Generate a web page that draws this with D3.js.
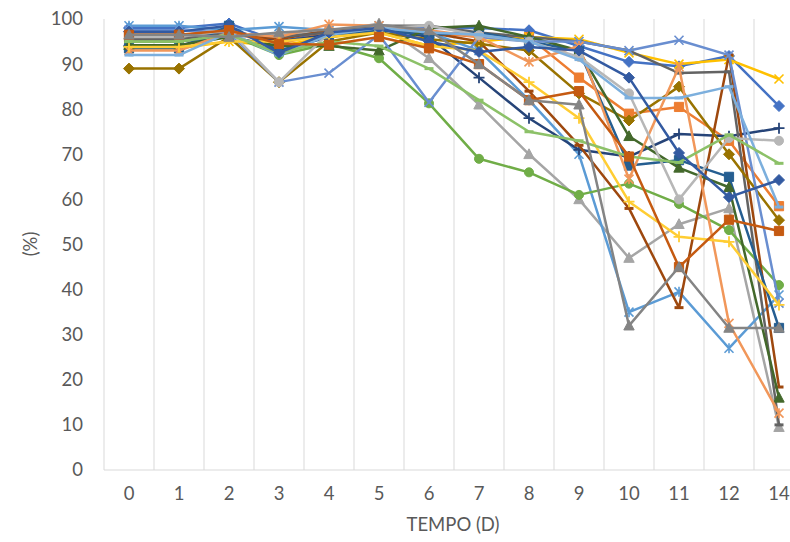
<!DOCTYPE html>
<html>
<head>
<meta charset="utf-8">
<script src="https://cdn.jsdelivr.net/npm/d3@7"></script>
<style>
  html, body { margin: 0; padding: 0; background: #ffffff; }
  svg { display: block; }
  text { font-family: Lato, "Open Sans", "Liberation Sans", sans-serif; fill: #595959; }
</style>
</head>
<body>
<svg id="chart" width="790" height="542"></svg>
<script>
// Days of observation (category axis)
const categories = ["0", "1", "2", "3", "4", "5", "6", "7", "8", "9", "10", "11", "12", "14"];
const yTicks = [0, 10, 20, 30, 40, 50, 60, 70, 80, 90, 100];

// Percentage per day, one array per series
const serie01 = [98, 98, 99, 95, 97, 98, 98, 98, 97.5, 94, 90.5, 89.5, 91.8, 80.7];
const serie02 = [96, 96, 97, 94.5, 97, 97.5, 97, 96, 96, 87, 79, 80.5, 73, 58.5];
const serie03 = [95, 95, 96, 96.5, 97, 99, 91.3, 81, 70, 60, 47, 54.5, 58, 9.5];
const serie04 = [93.5, 93.5, 95, 94, 96, 97, 94, 95, 96, 95.5, 92.5, 90, 91, 86.7];
const serie05 = [98.5, 98.5, 97.5, 98.3, 97.5, 98.5, 97, 93, 82, 70, 35, 39.5, 27, 38.8];
const serie06 = [95, 95, 96.5, 92, 94.5, 91.3, 81.3, 69, 66, 61, 63.5, 59, 53.2, 41];
const serie07 = [94, 94, 97, 95, 96.5, 98, 96, 87, 78, 71, 69.5, 74.5, 74, 75.8];
const serie08 = [96.5, 96.5, 97, 95.5, 97.5, 98, 97, 95, 84, 72, 58, 36, 92, 18.4];
const serie09 = [95.5, 95.5, 97, 96, 97, 98.5, 98.5, 97, 96, 95, 93, 88, 88.3, 10];
const serie10 = [89, 89, 96, 86, 95, 97, 95.5, 94.5, 93, 83.5, 77.5, 85, 70, 55.4];
const serie11 = [93.5, 93.5, 98.5, 93, 96, 97.5, 96.5, 97, 95, 93, 67.5, 68.7, 65, 31.5];
const serie12 = [94.2, 94.2, 96, 94, 94, 93, 98, 98.5, 96, 93, 74, 67, 62.7, 16];
const serie13 = [97.5, 97.5, 97, 86, 88, 96.5, 81.5, 96, 95, 95, 93, 95.3, 92, 37];
const serie14 = [93, 93, 97, 96, 98.8, 98.5, 97.5, 96, 90.5, 94, 64.5, 89.4, 32.5, 12.6];
const serie15 = [96, 96, 97.5, 86, 97, 98, 98.5, 96.4, 95, 91.6, 83.5, 60, 73.6, 73];
const serie16 = [93.8, 93.8, 95, 95, 96, 97, 94, 93, 86, 78, 59.5, 51.7, 50.6, 36.6];
const serie17 = [92, 92, 97, 92, 96.5, 98, 97, 96.5, 95, 91, 82.5, 82.5, 85, 58.3];
const serie18 = [95, 95, 96.5, 92.5, 95, 94, 89, 82, 75, 73, 69.5, 68.2, 74.3, 68];
const serie19 = [97.2, 97.2, 98.5, 92.5, 97, 98, 95, 92.7, 93.8, 93, 87, 70.3, 60.5, 64.3];
const serie20 = [96.5, 96.5, 97.5, 94.5, 94.3, 96, 93.5, 90, 82, 84, 69.5, 45, 55.5, 53];
const serie21 = [96.5, 96.5, 96, 97, 97.6, 98.7, 97.5, 90, 82, 81, 32, 45, 31.5, 31.5];

const seriesValues = [serie01, serie02, serie03, serie04, serie05, serie06, serie07,
  serie08, serie09, serie10, serie11, serie12, serie13, serie14, serie15, serie16,
  serie17, serie18, serie19, serie20, serie21];

const seriesColors = ["#4472C4", "#ED7D31", "#A5A5A5", "#FFC000", "#5B9BD5", "#70AD47",
  "#264478", "#9E480E", "#636363", "#997300", "#255E91", "#43682B", "#698ED0",
  "#F1975A", "#B7B7B7", "#FFCD33", "#7CAFDD", "#8CC168", "#335AA1", "#C55A11", "#848484"];

const markerCycle = ["diamond", "square", "triangle", "x", "star", "circle", "plus", "dash", "dash"];

const svg = d3.select("#chart");
const plot = { left: 104, right: 804, top: 19, bottom: 470 };
const labelFont = 18.5;

const x = d3.scaleBand().domain(categories).range([plot.left, plot.right]).padding(0);
const y = d3.scaleLinear().domain([0, 100]).range([plot.bottom, plot.top]);

// Vertical gridlines at category boundaries
const bounds = categories.map(c => x(c)).concat([plot.right]);
svg.append("g").selectAll("line").data(bounds).join("line")
  .attr("x1", d => d).attr("x2", d => d)
  .attr("y1", plot.top).attr("y2", plot.bottom)
  .attr("stroke", "#d9d9d9").attr("stroke-width", 1);

// Category axis line
svg.append("line")
  .attr("x1", plot.left).attr("x2", plot.right)
  .attr("y1", plot.bottom).attr("y2", plot.bottom)
  .attr("stroke", "#d9d9d9").attr("stroke-width", 1);

// Value axis labels
const yAxis = d3.axisLeft(y).tickValues(yTicks).tickSize(0).tickPadding(0);
const yg = svg.append("g").attr("transform", "translate(83,0)").call(yAxis);
yg.select(".domain").remove();
yg.selectAll("text").attr("font-size", labelFont).attr("fill", "#595959")
  .style("font-family", "Lato, 'Open Sans', sans-serif");

// Category axis labels
const xAxis = d3.axisBottom(x).tickSize(0).tickPadding(0);
const xg = svg.append("g").attr("transform", "translate(0,487)").call(xAxis);
xg.select(".domain").remove();
xg.selectAll("text").attr("font-size", labelFont).attr("fill", "#595959")
  .style("font-family", "Lato, 'Open Sans', sans-serif");

// Axis titles
svg.append("text").attr("x", 453).attr("y", 531).attr("text-anchor", "middle")
  .attr("font-size", labelFont).text("TEMPO (D)");
svg.append("text").attr("transform", "translate(37,244) rotate(-90)")
  .attr("text-anchor", "middle").attr("font-size", labelFont).text("(%)");

// Marker shapes (centered at 0,0)
function markerPath(type) {
  switch (type) {
    case "diamond": return "M0,-5.5L5.5,0L0,5.5L-5.5,0Z";
    case "square": return "M-4.6,-4.6H4.6V4.6H-4.6Z";
    case "triangle": return "M0,-5.5L5.2,4.3H-5.2Z";
    case "circle": return d3.symbol(d3.symbolCircle, 64)();
    default: return null;
  }
}

const line = d3.line()
  .x((d, i) => x(categories[i]) + x.bandwidth() / 2)
  .y(d => y(d));

const layer = svg.append("g");
seriesValues.forEach((vals, si) => {
  const color = seriesColors[si];
  const mtype = markerCycle[si % markerCycle.length];
  const g = layer.append("g");
  g.append("path").datum(vals)
    .attr("d", line).attr("fill", "none")
    .attr("stroke", color).attr("stroke-width", 2.5)
    .attr("stroke-linejoin", "round").attr("stroke-linecap", "round");

  const pts = g.selectAll("g.m").data(vals).join("g")
    .attr("transform", (d, i) => `translate(${x(categories[i]) + x.bandwidth() / 2},${y(d)})`);

  if (["diamond", "square", "triangle", "circle"].includes(mtype)) {
    pts.append("path").attr("d", markerPath(mtype)).attr("fill", color).attr("stroke", color).attr("stroke-width", 1);
  } else if (mtype === "x" || mtype === "star") {
    pts.append("path").attr("d", "M-4.5,-4.5L4.5,4.5M-4.5,4.5L4.5,-4.5" + (mtype === "star" ? "M0,-5V5" : ""))
      .attr("stroke", color).attr("stroke-width", 1.6).attr("fill", "none");
  } else if (mtype === "plus") {
    pts.append("path").attr("d", "M-5.5,0H5.5M0,-5.5V5.5")
      .attr("stroke", color).attr("stroke-width", 1.8).attr("fill", "none");
  } else if (mtype === "dash") {
    pts.append("path").attr("d", "M-4.5,0H4.5")
      .attr("stroke", color).attr("stroke-width", 3).attr("fill", "none");
  }
});
</script>
</body>
</html>
